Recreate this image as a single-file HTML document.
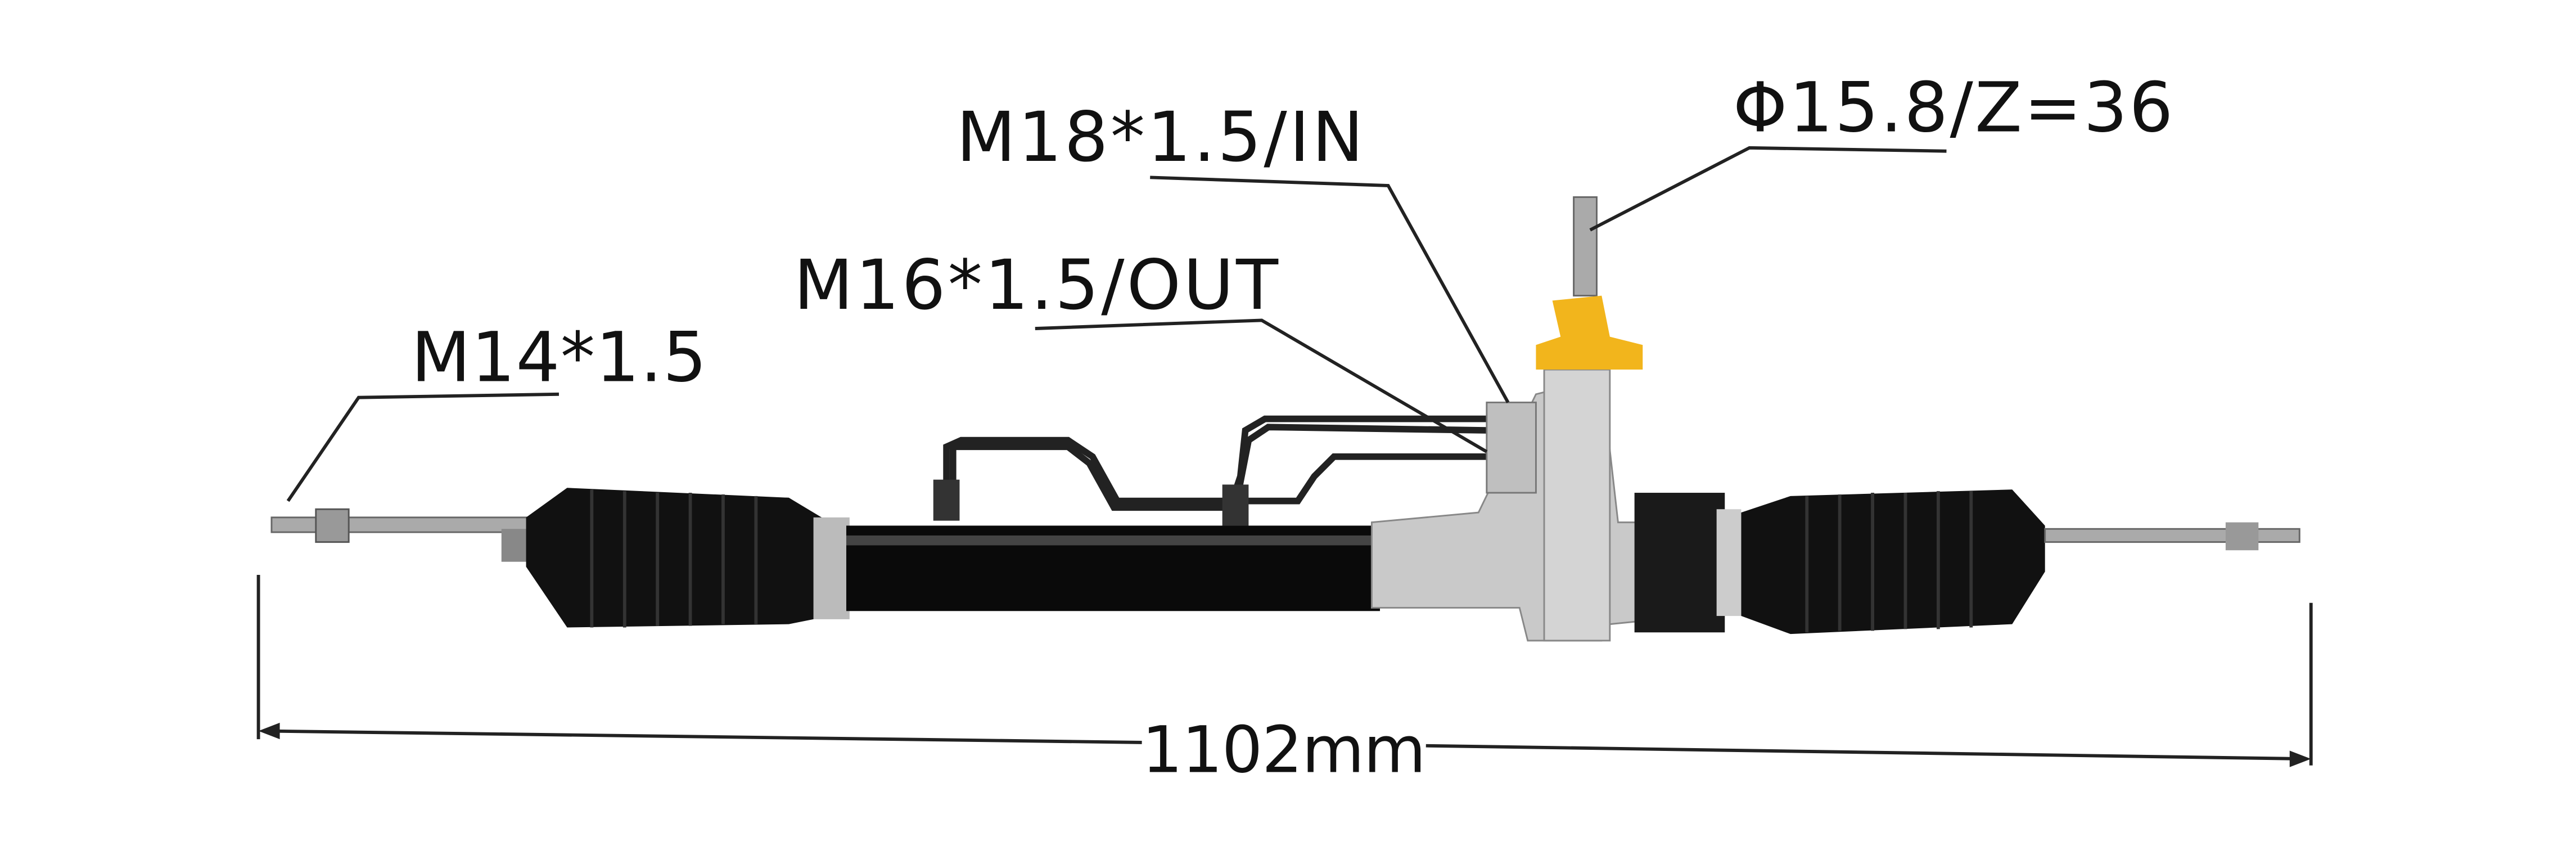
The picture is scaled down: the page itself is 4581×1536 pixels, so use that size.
<!DOCTYPE html>
<html><head><meta charset="utf-8"><style>
html,body{margin:0;padding:0;background:#fff;}
svg{display:block;}
text{font-family:"DejaVu Sans","Liberation Sans",sans-serif;fill:#111;}
</style></head><body>
<svg width="4581" height="1536" viewBox="0 0 1568 526" xmlns="http://www.w3.org/2000/svg">
<rect width="1568" height="526" fill="#fff"/>
<g stroke="#222" stroke-width="2" fill="none">
<line x1="157" y1="350" x2="157" y2="450"/>
<line x1="1407" y1="367" x2="1407" y2="466"/>
<line x1="160" y1="445" x2="695" y2="452"/>
<line x1="868" y1="454" x2="1404" y2="462"/>
</g>
<polygon points="157,445 170,440 170,450" fill="#222"/>
<polygon points="1407,462 1394,457 1394,467" fill="#222"/>
<text x="695" y="470" font-size="39" textLength="173">1102mm</text>
<g stroke="#222" stroke-width="4" fill="none">
<path d="M576,300 L576,272 L585,268 L650,268 L665,278 L680,305 L750,305 L755,290 L758,262 L770,255 L905,255 L915,250"/>
<path d="M580,300 L580,272 L650,272 L663,282 L678,309 L752,309 L760,268 L772,260 L905,262 L915,258"/>
<path d="M750,305 L790,305 L800,290 L812,278 L905,278 L915,270"/>
</g>
<rect x="568" y="292" width="16" height="25" fill="#333"/>
<rect x="744" y="295" width="16" height="25" fill="#333"/>
<rect x="165" y="315" width="160" height="9" fill="#aaa" stroke="#666"/>
<rect x="192" y="310" width="20" height="20" fill="#999" stroke="#555"/>
<rect x="305" y="322" width="20" height="20" fill="#888"/>
<path d="M320,315 L345,297 L480,303 L505,318 L505,375 L480,380 L345,382 L320,345 Z" fill="#111"/>
<g stroke="#333" stroke-width="2">
<line x1="360" y1="298" x2="360" y2="382"/><line x1="380" y1="299" x2="380" y2="382"/><line x1="400" y1="300" x2="400" y2="381"/><line x1="420" y1="300" x2="420" y2="381"/><line x1="440" y1="301" x2="440" y2="380"/><line x1="460" y1="302" x2="460" y2="380"/>
</g>
<rect x="495" y="315" width="22" height="62" fill="#bbb"/>
<rect x="515" y="320" width="325" height="52" fill="#0a0a0a"/>
<rect x="515" y="326" width="325" height="6" fill="#444"/>
<path d="M835,318 L900,312 L935,240 L975,230 L985,318 L1000,318 L1000,378 L980,380 L975,390 L930,390 L925,370 L835,370 Z" fill="#c9c9c9" stroke="#888"/>
<rect x="940" y="225" width="40" height="165" fill="#d4d4d4" stroke="#888"/>
<rect x="958" y="120" width="14" height="60" fill="#aaa" stroke="#666"/>
<path d="M945,183 L975,180 L980,205 L1000,210 L1000,225 L935,225 L935,210 L950,205 Z" fill="#f2b51c"/>
<rect x="905" y="245" width="30" height="55" fill="#bfbfbf" stroke="#777"/>
<rect x="995" y="300" width="55" height="85" fill="#1a1a1a"/>
<rect x="1045" y="310" width="15" height="65" fill="#ccc"/>
<path d="M1060,312 L1090,302 L1225,298 L1245,320 L1245,348 L1225,380 L1090,386 L1060,375 Z" fill="#111"/>
<g stroke="#333" stroke-width="2">
<line x1="1100" y1="302" x2="1100" y2="385"/><line x1="1120" y1="301" x2="1120" y2="384"/><line x1="1140" y1="300" x2="1140" y2="384"/><line x1="1160" y1="300" x2="1160" y2="383"/><line x1="1180" y1="299" x2="1180" y2="383"/><line x1="1200" y1="299" x2="1200" y2="382"/>
</g>
<rect x="1245" y="322" width="155" height="8" fill="#aaa" stroke="#666"/>
<rect x="1355" y="318" width="20" height="17" fill="#999"/>
<g stroke="#222" stroke-width="2" fill="none">
<polyline points="340,240 218,242 175,305"/>
<polyline points="630,200 768,195 905,275"/>
<polyline points="700,108 845,113 918,245"/>
<polyline points="1185,92 1065,90 968,140"/>
</g>
<text x="250" y="232" font-size="42" textLength="180">M14*1.5</text>
<text x="483" y="188" font-size="42" textLength="295">M16*1.5/OUT</text>
<text x="582" y="98" font-size="42" textLength="248">M18*1.5/IN</text>
<text x="1055" y="80" font-size="42" textLength="268">Φ15.8/Z=36</text>
</svg>
</body></html>
